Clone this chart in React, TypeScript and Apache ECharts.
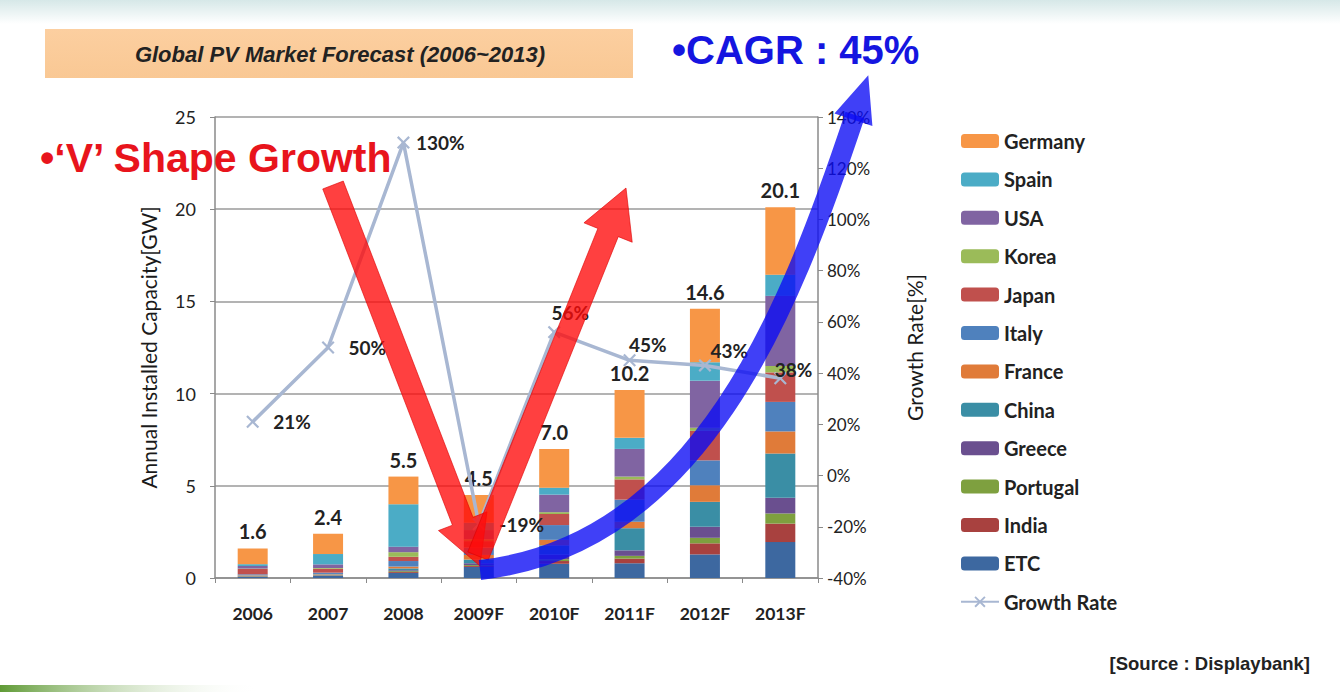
import React, { useEffect, useRef } from "react";
import * as echarts from "echarts";

const categories = ["2006", "2007", "2008", "2009F", "2010F", "2011F", "2012F", "2013F"];
const totals = [1.6, 2.4, 5.5, 4.5, 7.0, 10.2, 14.6, 20.1];
const germany = [0.85, 1.1, 1.5, 1.5, 2.1, 2.6, 2.9, 3.65];
const spain = [0.1, 0.56, 2.3, 0.4, 0.38, 0.6, 1.0, 1.15];
const usa = [0.14, 0.2, 0.3, 0.5, 0.95, 1.5, 2.55, 3.8];
const korea = [0.02, 0.04, 0.25, 0.1, 0.1, 0.15, 0.17, 0.35];
const japan = [0.29, 0.21, 0.23, 0.35, 0.6, 1.1, 1.6, 1.6];
const italy = [0.05, 0.07, 0.3, 0.4, 0.8, 1.2, 1.35, 1.6];
const france = [0.02, 0.02, 0.1, 0.25, 0.3, 0.35, 0.9, 1.2];
const china = [0.02, 0.02, 0.1, 0.2, 0.5, 1.2, 1.35, 2.4];
const greece = [0.01, 0.01, 0.05, 0.1, 0.25, 0.3, 0.6, 0.85];
const portugal = [0.02, 0.02, 0.05, 0.05, 0.1, 0.15, 0.3, 0.55];
const india = [0.02, 0.02, 0.05, 0.05, 0.15, 0.25, 0.6, 1.0];
const etc = [0.06, 0.13, 0.27, 0.6, 0.77, 0.8, 1.28, 1.95];
const growth = [21, 50, 130, -19, 56, 45, 43, 38];
const leftTicks = [0, 5, 10, 15, 20, 25];
const rightTicks = [-40, -20, 0, 20, 40, 60, 80, 100, 120, 140];

const stackSeries: [string, number[], string][] = [
  ["ETC", etc, "#3d68a0"],
  ["India", india, "#a8413f"],
  ["Portugal", portugal, "#7ea03f"],
  ["Greece", greece, "#6a4f8f"],
  ["China", china, "#3a8ea5"],
  ["France", france, "#e07b39"],
  ["Italy", italy, "#4f81bd"],
  ["Japan", japan, "#c0504d"],
  ["Korea", korea, "#9bbb59"],
  ["USA", usa, "#8064a2"],
  ["Spain", spain, "#4bacc6"],
  ["Germany", germany, "#f79646"],
];
const legendOrder = ["Germany", "Spain", "USA", "Korea", "Japan", "Italy", "France", "China", "Greece", "Portugal", "India", "ETC", "Growth Rate"];

function arrowPts(sx: number, sy: number, tx: number, ty: number, sh: number, hh: number, hl: number) {
  const dx = tx - sx, dy = ty - sy;
  const L = Math.hypot(dx, dy);
  const ux = dx / L, uy = dy / L;
  const nx = -uy, ny = ux;
  const bx = tx - ux * hl, by = ty - uy * hl;
  return [
    [sx + nx * sh, sy + ny * sh],
    [bx + nx * sh, by + ny * sh],
    [bx + nx * hh, by + ny * hh],
    [tx, ty],
    [bx - nx * hh, by - ny * hh],
    [bx - nx * sh, by - ny * sh],
    [sx - nx * sh, sy - ny * sh],
  ];
}

const FONT = "Lato, 'Noto Sans', sans-serif";
const XSYM = "path://M0,1.2L1.2,0L5,3.8L8.8,0L10,1.2L6.2,5L10,8.8L8.8,10L5,6.2L1.2,10L0,8.8L3.8,5Z";

function growthLabel(i: number) {
  if (i === 2) return { position: "right", offset: [-8, 0] };
  if (i === 4) return { position: "top", distance: 4, offset: [16, 0] };
  if (i === 5) return { position: "right", offset: [-21, -16] };
  if (i === 6) return { position: "right", offset: [-15, -15] };
  if (i === 7) return { position: "right", offset: [-26, -9] };
  return { position: "right" };
}

export default function App() {
  const ref = useRef<HTMLDivElement>(null);
  useEffect(() => {
    if (!ref.current) return;
    const chart = echarts.init(ref.current, null, { renderer: "svg" });
    const series: any[] = stackSeries.map(([name, data, color]) => ({
      name,
      type: "bar",
      stack: "total",
      data,
      barWidth: 30,
      itemStyle: { color },
      label:
        name === "Germany"
          ? {
              show: true,
              position: "top",
              distance: 7,
              formatter: (p: any) => totals[p.dataIndex].toFixed(1),
              fontFamily: FONT,
              fontSize: 20,
              fontWeight: "bold",
              color: "#222",
            }
          : { show: false },
    }));
    series.push({
      name: "Growth Rate",
      type: "line",
      yAxisIndex: 1,
      z: 5,
      data: growth.map((v, i) => ({ value: v, label: growthLabel(i) })),
      symbol: XSYM,
      symbolSize: 13,
      lineStyle: { color: "#a8b7d2", width: 3.5 },
      itemStyle: { color: "#a8b7d2" },
      label: {
        show: true,
        formatter: "{c}%",
        distance: 14,
        fontFamily: FONT,
        fontSize: 19,
        fontWeight: "bold",
        color: "#222",
      },
    });

    const a1 = arrowPts(333, 185, 480, 566, 11, 26, 48);
    const a2 = arrowPts(478, 556, 626, 188, 11, 26, 48);
    const p3x = 855, p3y = 115, p2x = 790, p2y = 310;
    const bl = Math.hypot(p3x - p2x, p3y - p2y);
    const bux = (p3x - p2x) / bl, buy = (p3y - p2y) / bl;
    const blueHead = arrowPts(p3x - bux * 5, p3y - buy * 5, p3x + bux * 42, p3y + buy * 42, 0.1, 20, 47);

    chart.setOption({
      animation: false,
      backgroundColor: "#ffffff",
      grid: { left: 215, right: 522, top: 117, bottom: 114 },
      legend: {
        orient: "vertical",
        left: 955,
        top: 126,
        data: legendOrder,
        itemWidth: 38,
        itemHeight: 14,
        itemGap: 18.4,
        textStyle: { fontFamily: FONT, fontSize: 20, fontWeight: "bold", color: "#222", lineHeight: 20 },
      },
      xAxis: {
        type: "category",
        data: categories,
        axisLine: { lineStyle: { color: "#8a8a8a", width: 1.5 } },
        axisTick: { show: true, length: 5, lineStyle: { color: "#8a8a8a" } },
        axisLabel: { fontFamily: FONT, fontSize: 17.5, fontWeight: "bold", color: "#222", margin: 26 },
      },
      yAxis: [
        {
          type: "value",
          min: leftTicks[0],
          max: leftTicks[leftTicks.length - 1],
          interval: 5,
          name: "Annual Installed Capacity[GW]",
          nameLocation: "middle",
          nameRotate: 90,
          nameGap: 56,
          nameTextStyle: { fontFamily: FONT, fontSize: 21, color: "#1a1a1a" },
          axisLine: { show: true, lineStyle: { color: "#8a8a8a", width: 1.5 } },
          axisTick: { show: true, length: 5, lineStyle: { color: "#8a8a8a" } },
          axisLabel: { fontFamily: FONT, fontSize: 18, color: "#222", margin: 19 },
          splitLine: { lineStyle: { color: "#9a9a9a", width: 1.5 } },
        },
        {
          type: "value",
          min: rightTicks[0],
          max: rightTicks[rightTicks.length - 1],
          interval: 20,
          name: "Growth Rate[%]",
          nameLocation: "middle",
          nameRotate: 90,
          nameGap: 86,
          nameTextStyle: { fontFamily: FONT, fontSize: 21, color: "#1a1a1a" },
          axisLine: { show: true, lineStyle: { color: "#8a8a8a", width: 1.5 } },
          axisTick: { show: true, length: 5, lineStyle: { color: "#8a8a8a" } },
          axisLabel: { fontFamily: FONT, fontSize: 17, color: "#222", margin: 9, formatter: "{value}%" },
          splitLine: { show: false },
        },
      ],
      graphic: [
        {
          type: "rect",
          z: 0,
          silent: true,
          shape: { x: 0, y: 0, width: 1340, height: 24 },
          style: {
            fill: new echarts.graphic.LinearGradient(0, 0, 0, 1, [
              { offset: 0, color: "#d6e8e8" },
              { offset: 1, color: "#ffffff" },
            ]),
          },
        },
        {
          type: "rect",
          z: 0,
          silent: true,
          shape: { x: 0, y: 685, width: 260, height: 7 },
          style: {
            fill: new echarts.graphic.LinearGradient(0, 0, 1, 0, [
              { offset: 0, color: "#5f9a35" },
              { offset: 1, color: "rgba(255,255,255,0)" },
            ]),
          },
        },
        {
          type: "rect",
          z: 1,
          shape: { x: 45, y: 29, width: 588, height: 49 },
          style: {
            fill: new echarts.graphic.LinearGradient(0, 0, 0, 1, [
              { offset: 0, color: "#fccfa0" },
              { offset: 1, color: "#f9c894" },
            ]),
          },
        },
        {
          type: "text",
          z: 2,
          x: 340,
          y: 54,
          style: {
            text: "Global PV Market Forecast (2006~2013)",
            font: "italic bold 22px 'Liberation Sans', Arial, sans-serif",
            fill: "#222",
            align: "center",
            verticalAlign: "middle",
          },
        },
        {
          type: "text",
          z: 100,
          x: 672,
          y: 50,
          style: {
            text: "•CAGR : 45%",
            font: "bold 40px 'Liberation Sans', Arial, sans-serif",
            fill: "#1515e0",
            align: "left",
            verticalAlign: "middle",
          },
        },
        {
          type: "text",
          z: 100,
          x: 40,
          y: 158,
          style: {
            text: "•‘V’ Shape Growth",
            font: "bold 41px 'Liberation Sans', Arial, sans-serif",
            fill: "#e8141c",
            align: "left",
            verticalAlign: "middle",
          },
        },
        {
          type: "text",
          z: 100,
          x: 1310,
          y: 663,
          style: {
            text: "[Source : Displaybank]",
            font: "bold 18.5px 'Liberation Sans', Arial, sans-serif",
            fill: "#222",
            align: "right",
            verticalAlign: "middle",
          },
        },
        {
          type: "polygon",
          z: 100,
          shape: { points: a1 },
          style: { fill: "rgba(255,10,10,0.78)", stroke: "rgba(220,0,0,0.6)", lineWidth: 1 },
        },
        {
          type: "polygon",
          z: 100,
          shape: { points: a2 },
          style: { fill: "rgba(255,10,10,0.78)", stroke: "rgba(220,0,0,0.6)", lineWidth: 1 },
        },
        {
          type: "bezierCurve",
          z: 100,
          shape: { x1: 480, y1: 570, cpx1: 700, cpy1: 545, cpx2: p2x, cpy2: p2y, x2: p3x, y2: p3y },
          style: { stroke: "rgba(10,10,245,0.78)", lineWidth: 20, fill: null },
        },
        {
          type: "polygon",
          z: 100,
          shape: { points: blueHead },
          style: { fill: "rgba(10,10,245,0.78)" },
        },
      ],
      series,
    });
    return () => chart.dispose();
  }, []);
  return (
    <div
      ref={ref}
      style={{ position: "fixed", left: 0, top: 0, width: 1340, height: 692 }}
    />
  );
}
